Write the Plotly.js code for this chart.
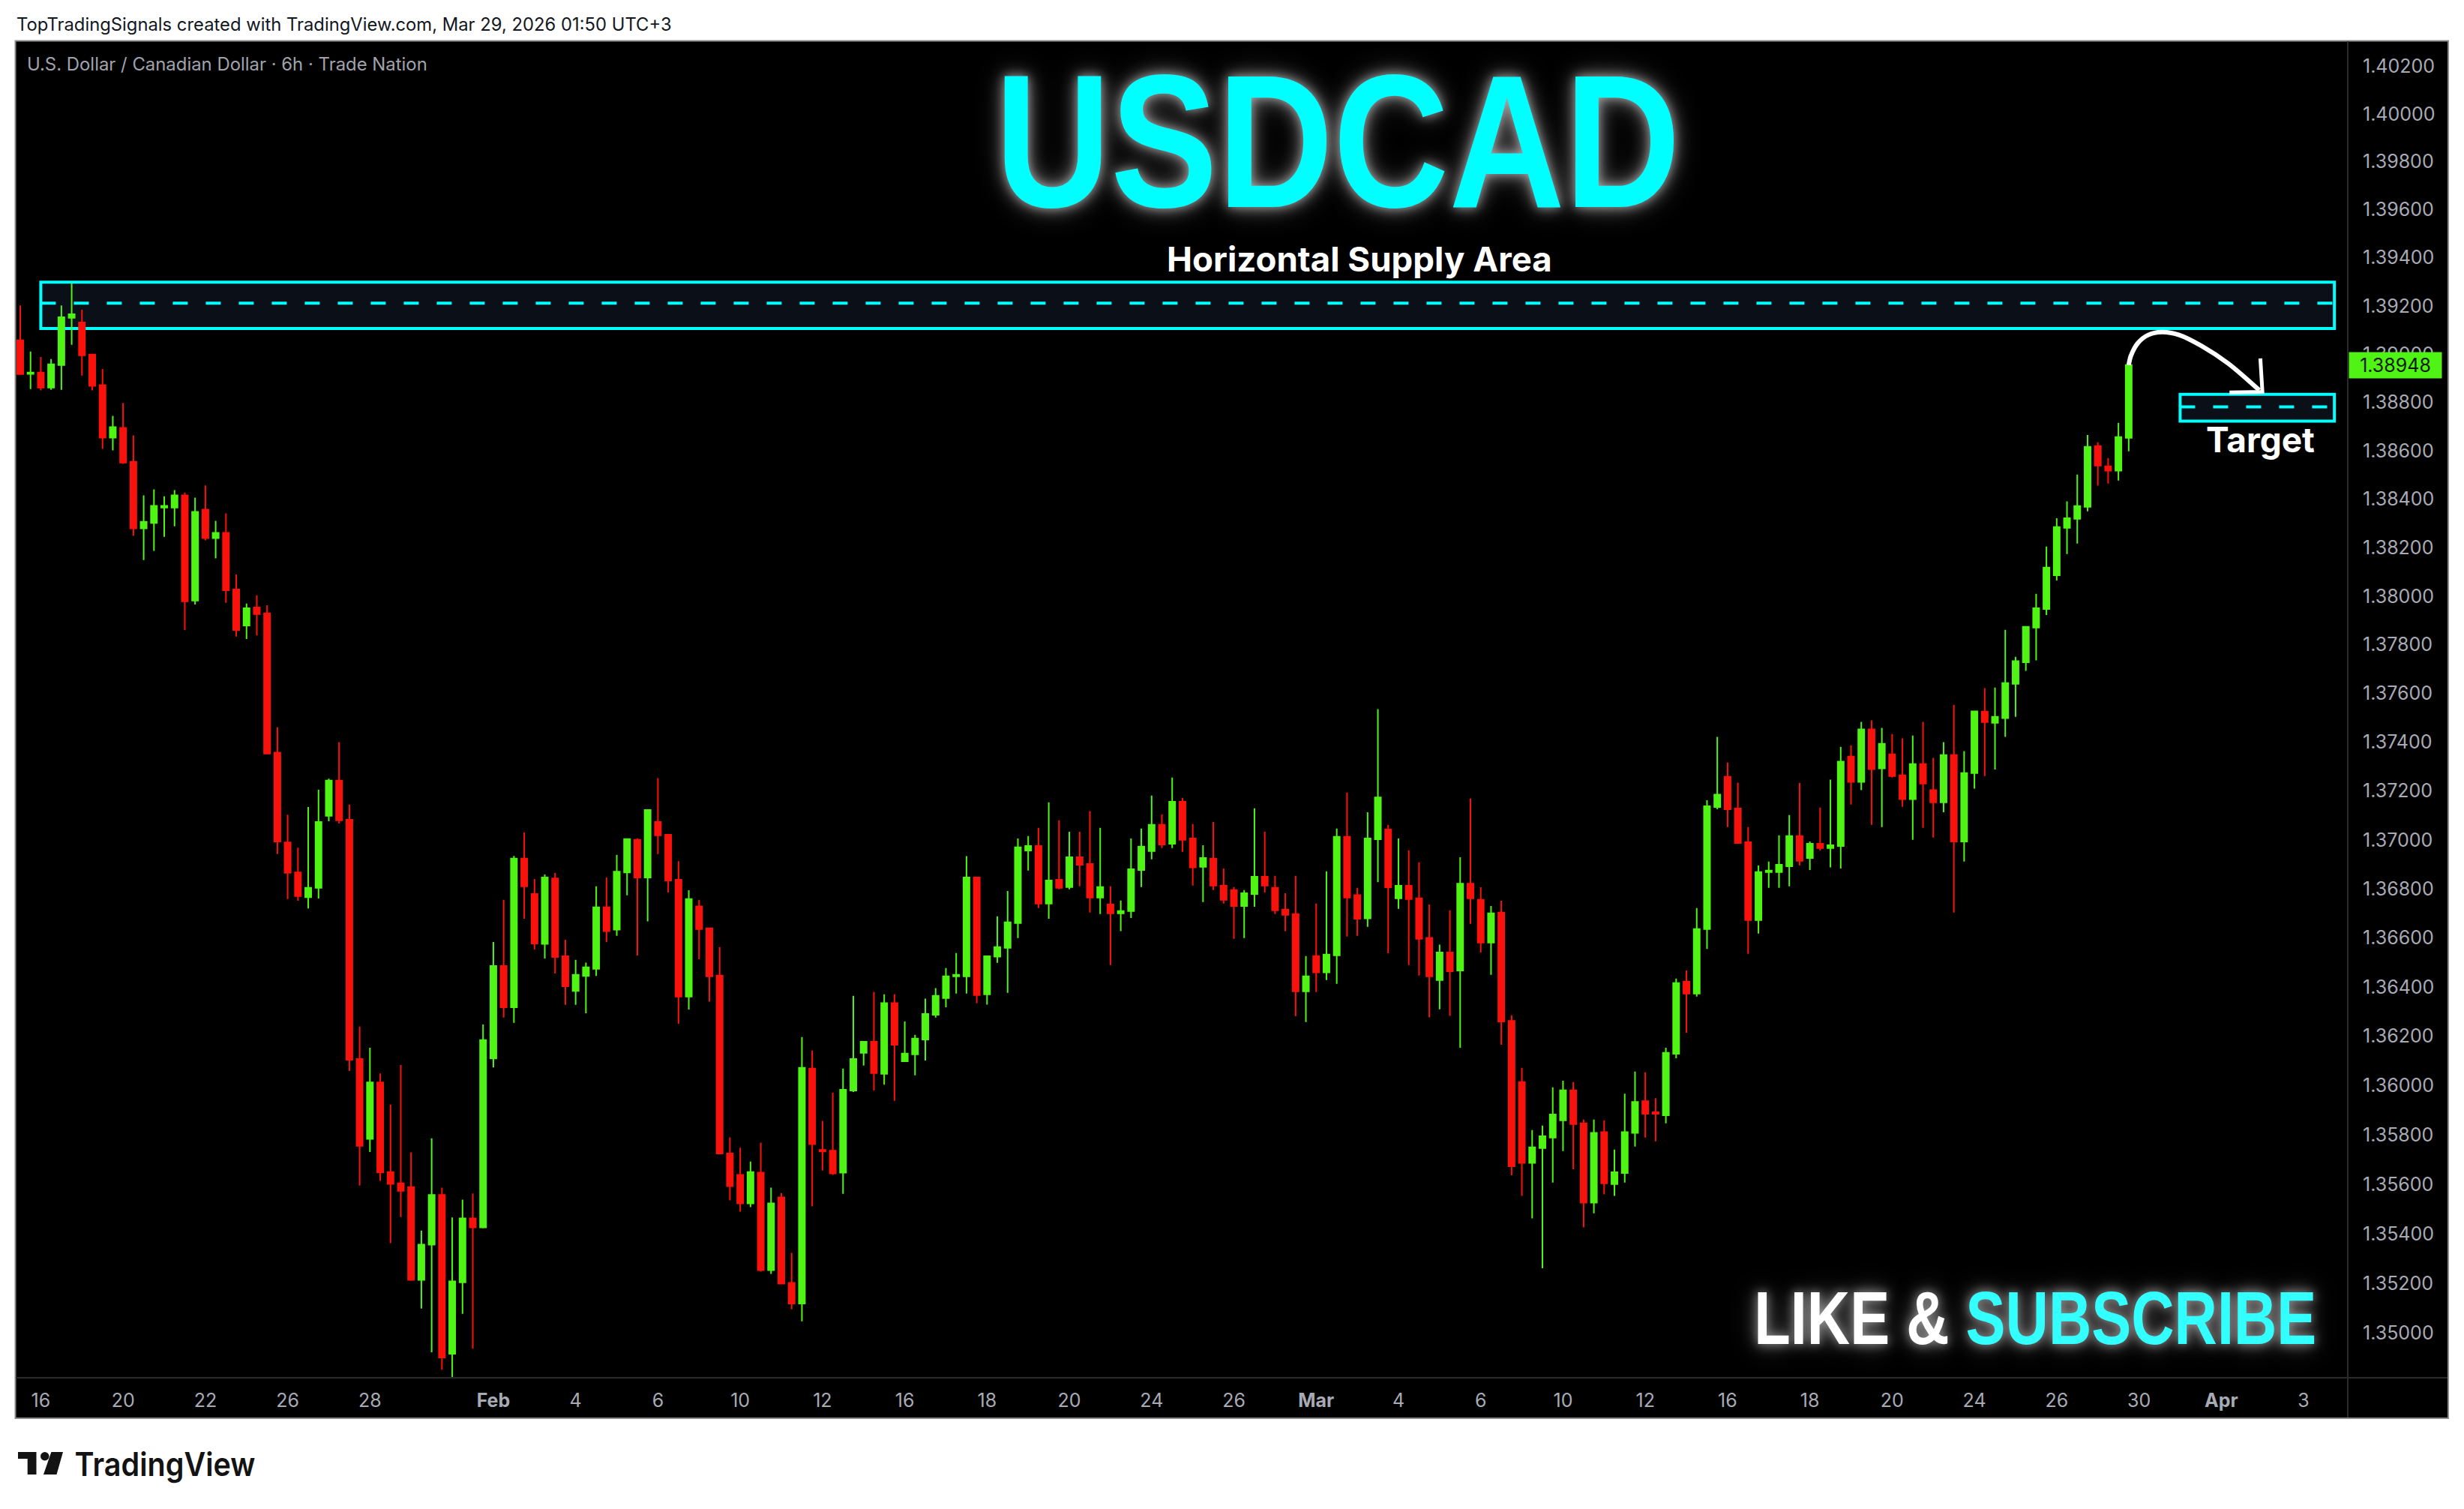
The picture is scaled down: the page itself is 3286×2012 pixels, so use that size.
<!DOCTYPE html>
<html>
<head>
<meta charset="utf-8">
<script src="https://cdn.plot.ly/plotly-3.0.1.min.js"></script>
<style>
  html, body { margin: 0; padding: 0; background: #ffffff; }
</style>
</head>
<body>
<div id="chart" style="width:3286px;height:2012px;"></div>
<script>
// USDCAD 6h candles
const opens = [
  1.39051,1.38912,1.38917,1.38855,1.38948,1.39144,1.39125,1.38992,1.38865,1.38648,
  1.38688,1.38548,1.38273,1.38295,1.38359,1.38359,1.38409,1.37975,1.38350,1.38233,
  1.38254,1.38021,1.37873,1.37947,1.37923,1.37351,1.36983,1.36861,1.36760,1.36798,
  1.37092,1.37236,1.37076,1.36101,1.35777,1.36006,1.35643,1.35597,1.35582,1.35207,
  1.35349,1.35550,1.34909,1.35197,1.35455,1.35419,1.36103,1.36479,1.36311,1.36917,
  1.36773,1.36569,1.36836,1.36519,1.36378,1.36439,1.36468,1.36718,1.36627,1.36861,
  1.36994,1.36840,1.37067,1.37015,1.36831,1.36355,1.36722,1.36633,1.36440,1.35718,
  1.35631,1.35516,1.35640,1.35246,1.35540,1.35195,1.35112,1.36062,1.35732,1.35729,
  1.35640,1.35973,1.36126,1.36171,1.36041,1.36328,1.36092,1.36120,1.36180,1.36281,
  1.36349,1.36437,1.36437,1.36840,1.36364,1.36517,1.36553,1.36654,1.36950,1.36969,
  1.36734,1.36831,1.36801,1.36923,1.36895,1.36758,1.36730,1.36694,1.36703,1.36871,
  1.36948,1.37055,1.36978,1.37150,1.36999,1.36884,1.36917,1.36807,1.36789,1.36724,
  1.36773,1.36843,1.36798,1.36709,1.36691,1.36376,1.36520,1.36453,1.36523,1.37006,
  1.36768,1.36673,1.36996,1.37036,1.36755,1.36806,1.36755,1.36594,1.36422,1.36534,
  1.36461,1.36815,1.36749,1.36575,1.36697,1.36256,1.36007,1.35680,1.35740,1.35782,
  1.35852,1.35974,1.35840,1.35519,1.35804,1.35594,1.35639,1.35801,1.35930,1.35885,
  1.35873,1.36122,1.36416,1.36367,1.36630,1.37128,1.37252,1.37122,1.36984,1.36666,
  1.36862,1.36862,1.36886,1.37009,1.36920,1.36978,1.36960,1.36969,1.37335,1.37231,
  1.37446,1.37286,1.37344,1.37258,1.37160,1.37304,1.37197,1.37147,1.37341,1.36987,
  1.37267,1.37519,1.37473,1.37492,1.37633,1.37722,1.37864,1.37941,1.38080,1.38275,
  1.38312,1.38362,1.38613,1.38529,1.38511,1.38647
];
const highs = [
  1.39196,1.39004,1.38982,1.38973,1.39196,1.39287,1.39178,1.38992,1.38932,1.38738,
  1.38791,1.38657,1.38409,1.38434,1.38405,1.38431,1.38421,1.38400,1.38450,1.38304,
  1.38335,1.38083,1.37963,1.37997,1.37956,1.37455,1.37097,1.36962,1.37128,1.37199,
  1.37244,1.37394,1.37138,1.36233,1.36147,1.36042,1.35916,1.36077,1.35722,1.35406,
  1.35779,1.35580,1.35459,1.35531,1.35556,1.36241,1.36577,1.36749,1.36928,1.37024,
  1.36834,1.36852,1.36859,1.36586,1.36504,1.36493,1.36804,1.36840,1.36933,1.36997,
  1.37000,1.37116,1.37246,1.37018,1.36907,1.36788,1.36749,1.36636,1.36556,1.35783,
  1.35741,1.35685,1.35762,1.35580,1.35558,1.35316,1.36190,1.36135,1.35850,1.35964,
  1.36062,1.36358,1.36174,1.36374,1.36364,1.36364,1.36253,1.36199,1.36346,1.36389,
  1.36471,1.36532,1.36927,1.36840,1.36519,1.36682,1.36785,1.36999,1.37009,1.37043,
  1.37147,1.37074,1.37027,1.37027,1.37111,1.37043,1.36804,1.36746,1.36999,1.37040,
  1.37175,1.37098,1.37249,1.37166,1.37058,1.36972,1.37067,1.36877,1.36801,1.36789,
  1.37123,1.37027,1.36847,1.36776,1.36847,1.36520,1.36734,1.36865,1.37040,1.37187,
  1.36798,1.37107,1.37529,1.37055,1.36999,1.36951,1.36902,1.36730,1.36566,1.36706,
  1.36923,1.37163,1.36800,1.36724,1.36745,1.36279,1.36065,1.35813,1.35831,1.35986,
  1.36013,1.36007,1.35855,1.35855,1.35852,1.35734,1.35960,1.36050,1.36047,1.35942,
  1.36147,1.36428,1.36461,1.36715,1.37156,1.37415,1.37310,1.37228,1.37046,1.36889,
  1.36905,1.37012,1.37095,1.37227,1.36987,1.37126,1.37240,1.37375,1.37381,1.37477,
  1.37483,1.37452,1.37427,1.37409,1.37421,1.37477,1.37329,1.37394,1.37547,1.37357,
  1.37523,1.37615,1.37618,1.37855,1.37744,1.37870,1.38003,1.38198,1.38315,1.38384,
  1.38495,1.38659,1.38628,1.38563,1.38709,1.38954
];
const lows = [
  1.38911,1.38849,1.38843,1.38846,1.38846,1.39032,1.38905,1.38843,1.38601,1.38595,
  1.38539,1.38242,1.38142,1.38180,1.38238,1.38281,1.37854,1.37959,1.38223,1.38149,
  1.37966,1.37827,1.37817,1.37832,1.37347,1.36936,1.36752,1.36745,1.36714,1.36754,
  1.37070,1.37061,1.36052,1.35588,1.35724,1.35607,1.35355,1.35461,1.35203,1.35091,
  1.34915,1.34845,1.34815,1.35070,1.34930,1.35415,1.36067,1.36269,1.36248,1.36672,
  1.36546,1.36510,1.36449,1.36321,1.36321,1.36287,1.36439,1.36577,1.36602,1.36767,
  1.36522,1.36661,1.36936,1.36779,1.36244,1.36302,1.36507,1.36334,1.35715,1.35528,
  1.35483,1.35501,1.35240,1.35231,1.35189,1.35088,1.35040,1.35504,1.35649,1.35631,
  1.35555,1.35967,1.36074,1.35973,1.35997,1.35931,1.36092,1.36035,1.36095,1.36269,
  1.36311,1.36367,1.36367,1.36328,1.36322,1.36492,1.36370,1.36593,1.36868,1.36715,
  1.36672,1.36792,1.36792,1.36804,1.36697,1.36691,1.36483,1.36621,1.36675,1.36801,
  1.36914,1.36960,1.36960,1.36945,1.36807,1.36740,1.36789,1.36734,1.36590,1.36593,
  1.36721,1.36779,1.36691,1.36621,1.36275,1.36251,1.36373,1.36422,1.36407,1.36599,
  1.36602,1.36639,1.36821,1.36531,1.36712,1.36483,1.36440,1.36270,1.36303,1.36276,
  1.36147,1.36651,1.36534,1.36443,1.36159,1.35630,1.35546,1.35455,1.35254,1.35600,
  1.35728,1.35654,1.35419,1.35476,1.35552,1.35546,1.35600,1.35746,1.35782,1.35767,
  1.35840,1.36104,1.36208,1.36355,1.36549,1.37119,1.37046,1.36978,1.36529,1.36611,
  1.36798,1.36798,1.36804,1.36889,1.36871,1.36950,1.36881,1.36877,1.37138,1.37197,
  1.37055,1.37046,1.37249,1.37129,1.36994,1.37043,1.37003,1.37107,1.36697,1.36905,
  1.37203,1.37255,1.37282,1.37415,1.37498,1.37686,1.37729,1.37916,1.38058,1.38167,
  1.38210,1.38343,1.38449,1.38458,1.38470,1.38591
];
const closes = [
  1.38911,1.38917,1.38855,1.38951,1.39147,1.39159,1.38989,1.38862,1.38648,1.38691,
  1.38545,1.38273,1.38300,1.38366,1.38366,1.38409,1.37972,1.38341,1.38233,1.38254,
  1.38018,1.37854,1.37944,1.37920,1.37347,1.36987,1.36859,1.36764,1.36798,1.37067,
  1.37236,1.37074,1.36098,1.35749,1.36006,1.35641,1.35595,1.35567,1.35207,1.35349,
  1.35550,1.34894,1.35201,1.35455,1.35419,1.36178,1.36479,1.36311,1.36917,1.36804,
  1.36571,1.36840,1.36516,1.36397,1.36443,1.36474,1.36718,1.36621,1.36864,1.36997,
  1.36840,1.37116,1.37012,1.36828,1.36355,1.36752,1.36630,1.36437,1.35718,1.35586,
  1.35516,1.35643,1.35246,1.35516,1.35192,1.35112,1.36065,1.35756,1.35726,1.35637,
  1.35976,1.36101,1.36171,1.36044,1.36328,1.36159,1.36123,1.36184,1.36284,1.36358,
  1.36437,1.36443,1.36840,1.36361,1.36519,1.36556,1.36657,1.36963,1.36969,1.36734,
  1.36828,1.36798,1.36923,1.36892,1.36758,1.36801,1.36694,1.36703,1.36874,1.36966,
  1.37055,1.36975,1.37150,1.36994,1.36881,1.36920,1.36807,1.36749,1.36724,1.36776,
  1.36843,1.36807,1.36706,1.36688,1.36376,1.36437,1.36453,1.36526,1.37006,1.36758,
  1.36672,1.36999,1.37167,1.36800,1.36806,1.36752,1.36590,1.36437,1.36534,1.36458,
  1.36815,1.36755,1.36575,1.36694,1.36253,1.35666,1.35680,1.35743,1.35788,1.35876,
  1.35974,1.35837,1.35519,1.35801,1.35597,1.35642,1.35804,1.35927,1.35879,1.35879,
  1.36126,1.36410,1.36367,1.36630,1.37131,1.37179,1.37119,1.36981,1.36666,1.36862,
  1.36868,1.36892,1.37009,1.36908,1.36978,1.36960,1.36972,1.37314,1.37231,1.37446,
  1.37283,1.37387,1.37255,1.37160,1.37304,1.37224,1.37147,1.37341,1.36987,1.37267,
  1.37520,1.37476,1.37498,1.37636,1.37726,1.37867,1.37944,1.38111,1.38278,1.38315,
  1.38365,1.38610,1.38532,1.38511,1.38650,1.38948
];
const barIndex = opens.map((v, i) => i);

// time axis labels sit on bar numbers (weekends are skipped, so the axis runs on bars)
const xTickBars = [2,10,18,26,34,46,54,62,70,78,86,94,102,110,118,126,134,142,150,158,166,174,182,190,198,206,214,222];
const xTickText = ['16','20','22','26','28','<b>Feb</b>','4','6','10','12','16','18','20','24','26','<b>Mar</b>','4','6','10','12','16','18','20','24','26','30','<b>Apr</b>','3'];

const yTicks = [1.35,1.352,1.354,1.356,1.358,1.36,1.362,1.364,1.366,1.368,1.37,1.372,1.374,1.376,1.378,1.38,1.382,1.384,1.386,1.388,1.39,1.392,1.394,1.396,1.398,1.4,1.402];

// drawn levels
const supplyTop = 1.39292, supplyMid = 1.39205, supplyBottom = 1.391;
const supplyBars = [2, 225];
const targetTop = 1.38827, targetMid = 1.38775, targetBottom = 1.38716;
const targetBars = [210, 225];
const lastPrice = 1.38948;

// hand drawn arrow
const arrowBars = [205.0,205.2,205.9,206.9,208.2,209.9,212.1,214.7,217.7];
const arrowPrices = [1.38948,1.38985,1.3904,1.39073,1.39085,1.39073,1.39027,1.38954,1.38844];
const headBars = [217.8,218.0,214.8];
const headPrices = [1.38976,1.38837,1.38835];

const GREEN = '#50F414', RED = '#F9120C', CYAN = '#00FFFF', BOXFILL = '#0A0F18', AXISTEXT = '#A8ABB5';

// plot rectangle in page pixels, for the things placed around the chart
const L = 21, R = 3131, T = 55, B = 1837;
const W = 3286, H = 2012;
const px = v => (v - L) / (R - L);
const py = v => (B - v) / (B - T);

const data = [
  {
    type: 'candlestick',
    x: barIndex,
    open: opens,
    high: highs,
    low: lows,
    close: closes,
    whiskerwidth: 0,
    increasing: { line: { color: GREEN, width: 2 }, fillcolor: GREEN },
    decreasing: { line: { color: RED, width: 2 }, fillcolor: RED },
    hoverinfo: 'skip',
    showlegend: false
  },
  {
    type: 'scatter',
    mode: 'lines',
    x: arrowBars,
    y: arrowPrices,
    line: { color: '#ffffff', width: 6, shape: 'spline', smoothing: 0.8 },
    hoverinfo: 'skip',
    showlegend: false
  },
  {
    type: 'scatter',
    mode: 'lines',
    x: headBars,
    y: headPrices,
    line: { color: '#ffffff', width: 5 },
    hoverinfo: 'skip',
    showlegend: false
  }
];

function boxShape(bars, top, bottom) {
  return {
    type: 'rect', xref: 'x', yref: 'y', layer: 'below',
    x0: bars[0], x1: bars[1], y0: bottom, y1: top,
    fillcolor: BOXFILL,
    line: { color: CYAN, width: 4 }
  };
}
function dashShape(bars, level) {
  return {
    type: 'line', xref: 'x', yref: 'y', layer: 'below',
    x0: bars[0], x1: bars[1], y0: level, y1: level,
    line: { color: CYAN, width: 4, dash: '20px,24px' }
  };
}

// TradingView logo
const logoPath = 'M' + px(24) + ',' + py(1936) + 'L' + px(48.5) + ',' + py(1936) + 'L' + px(48.5) + ',' + py(1966) +
  'L' + px(36.7) + ',' + py(1966) + 'L' + px(36.7) + ',' + py(1945) + 'L' + px(24) + ',' + py(1945) + 'Z' +
  'M' + px(68.4) + ',' + py(1936) + 'L' + px(84) + ',' + py(1936) + 'L' + px(75.5) + ',' + py(1966) +
  'L' + px(58) + ',' + py(1966) + 'Z';

const shapes = [
  // chart frame with the axis panels
  { type: 'rect', xref: 'paper', yref: 'paper', layer: 'below', x0: px(20.5), x1: px(3265), y0: py(54.5), y1: py(1891),
    fillcolor: '#000000', line: { color: '#8C8C8C', width: 2 } },
  { type: 'line', xref: 'paper', yref: 'paper', layer: 'above', x0: px(3131), x1: px(3131), y0: py(55), y1: py(1890),
    line: { color: '#2A2A2A', width: 2 } },
  { type: 'line', xref: 'paper', yref: 'paper', layer: 'above', x0: px(21), x1: px(3264), y0: py(1837), y1: py(1837),
    line: { color: '#2A2A2A', width: 2 } },
  boxShape(supplyBars, supplyTop, supplyBottom),
  dashShape([supplyBars[0], supplyBars[1]], supplyMid),
  boxShape(targetBars, targetTop, targetBottom),
  dashShape([targetBars[0], targetBars[1]], targetMid),
  { type: 'path', xref: 'paper', yref: 'paper', path: logoPath, fillcolor: '#131313', line: { width: 0 } },
  { type: 'circle', xref: 'paper', yref: 'paper', x0: px(54), x1: px(65.5), y0: py(1936), y1: py(1947.5),
    fillcolor: '#131313', line: { width: 0 } }
];

function note(text, x, y, size, color, family, anchor, extra) {
  return Object.assign({
    text: text, xref: 'paper', yref: 'paper', x: px(x), y: py(y),
    xanchor: anchor || 'left', yanchor: 'middle', showarrow: false,
    font: { family: family, size: size, color: color }
  }, extra || {});
}

const GLOW = '0 0 14px rgba(255,255,255,0.45), 0 0 26px rgba(255,255,255,0.35), 0 0 42px rgba(255,255,255,0.25)';
const annotations = [
  note('TopTradingSignals created with TradingView.com, Mar 29, 2026 01:50 UTC+3', 20, 32, 23.8, '#131722', 'Inter, sans-serif'),
  note('U.S. Dollar / Canadian Dollar · 6h · Trade Nation', 34, 86, 23.9, '#A0A3AD', 'Inter, sans-serif'),
  note('USDCAD', 1784, 188, 252, CYAN, '"Liberation Sans", sans-serif', 'center',
    { font: { family: '"Liberation Sans", sans-serif', size: 252, color: CYAN, weight: 700, shadow: GLOW } }),
  note('<b>Horizontal Supply Area</b>', 1813, 345, 45.6, '#ffffff', 'Inter, sans-serif', 'center'),
  note('<b>Target</b>', 3014, 586, 46, '#ffffff', 'Inter, sans-serif', 'center'),
  note('LIKE &amp; <span style="color:#33FFFF">SUBSCRIBE</span>', 2714, 1757, 100, '#ffffff', '"Liberation Sans", sans-serif', 'center',
    { font: { family: '"Liberation Sans", sans-serif', size: 100, color: '#ffffff', weight: 700, shadow: GLOW } }),
  // last price tag on the axis
  { text: lastPrice.toFixed(5), xref: 'paper', yref: 'y', x: px(3132), y: Math.log10(lastPrice), xanchor: 'left', yanchor: 'middle',
    showarrow: false, width: 123, height: 34, align: 'center', bgcolor: GREEN, borderpad: 0,
    font: { family: 'Inter, sans-serif', size: 25, color: '#0A1A05' } },
  note('TradingView', 84, 1952, 44, '#131313', 'Inter, sans-serif', 'left', { font: { family: 'Inter, sans-serif', size: 44, color: '#131313', weight: 600 } })
];

const layout = {
  width: W,
  height: H,
  autosize: false,
  margin: { l: L, r: W - R, t: T, b: H - B, pad: 0 },
  paper_bgcolor: '#ffffff',
  plot_bgcolor: '#000000',
  boxgap: 0.42,
  boxgroupgap: 0,
  showlegend: false,
  xaxis: {
    type: 'linear',
    range: [-0.437, 226.3],
    rangeslider: { visible: false },
    tickmode: 'array',
    tickvals: xTickBars,
    ticktext: xTickText,
    showgrid: false,
    zeroline: false,
    showline: false,
    ticks: '',
    ticklabelstandoff: 13,
    tickfont: { family: 'Inter, sans-serif', size: 25, color: AXISTEXT }
  },
  yaxis: {
    type: 'log',
    side: 'right',
    range: [0.129731, 0.147049],
    tickmode: 'array',
    tickvals: yTicks,
    ticktext: yTicks.map(v => v.toFixed(5)),
    showgrid: false,
    zeroline: false,
    showline: false,
    ticks: '',
    ticklabelstandoff: 19,
    ticklabelshift: 2,
    tickfont: { family: 'Inter, sans-serif', size: 25, color: AXISTEXT }
  },
  shapes: shapes,
  annotations: annotations
};

// the poster style titles are condensed, no narrow font here so squeeze them to the measured width
const squeezed = { 'USDCAD': 914, 'LIKE & SUBSCRIBE': 750, 'TradingView': 241 };

Plotly.newPlot('chart', data, layout, { displayModeBar: false, responsive: false, staticPlot: true }).then(() => {
  document.querySelectorAll('#chart text.annotation-text').forEach(el => {
    const width = squeezed[el.textContent];
    if (width) {
      el.setAttribute('textLength', width);
      el.setAttribute('lengthAdjust', 'spacingAndGlyphs');
    }
  });
});
</script>
</body>
</html>
